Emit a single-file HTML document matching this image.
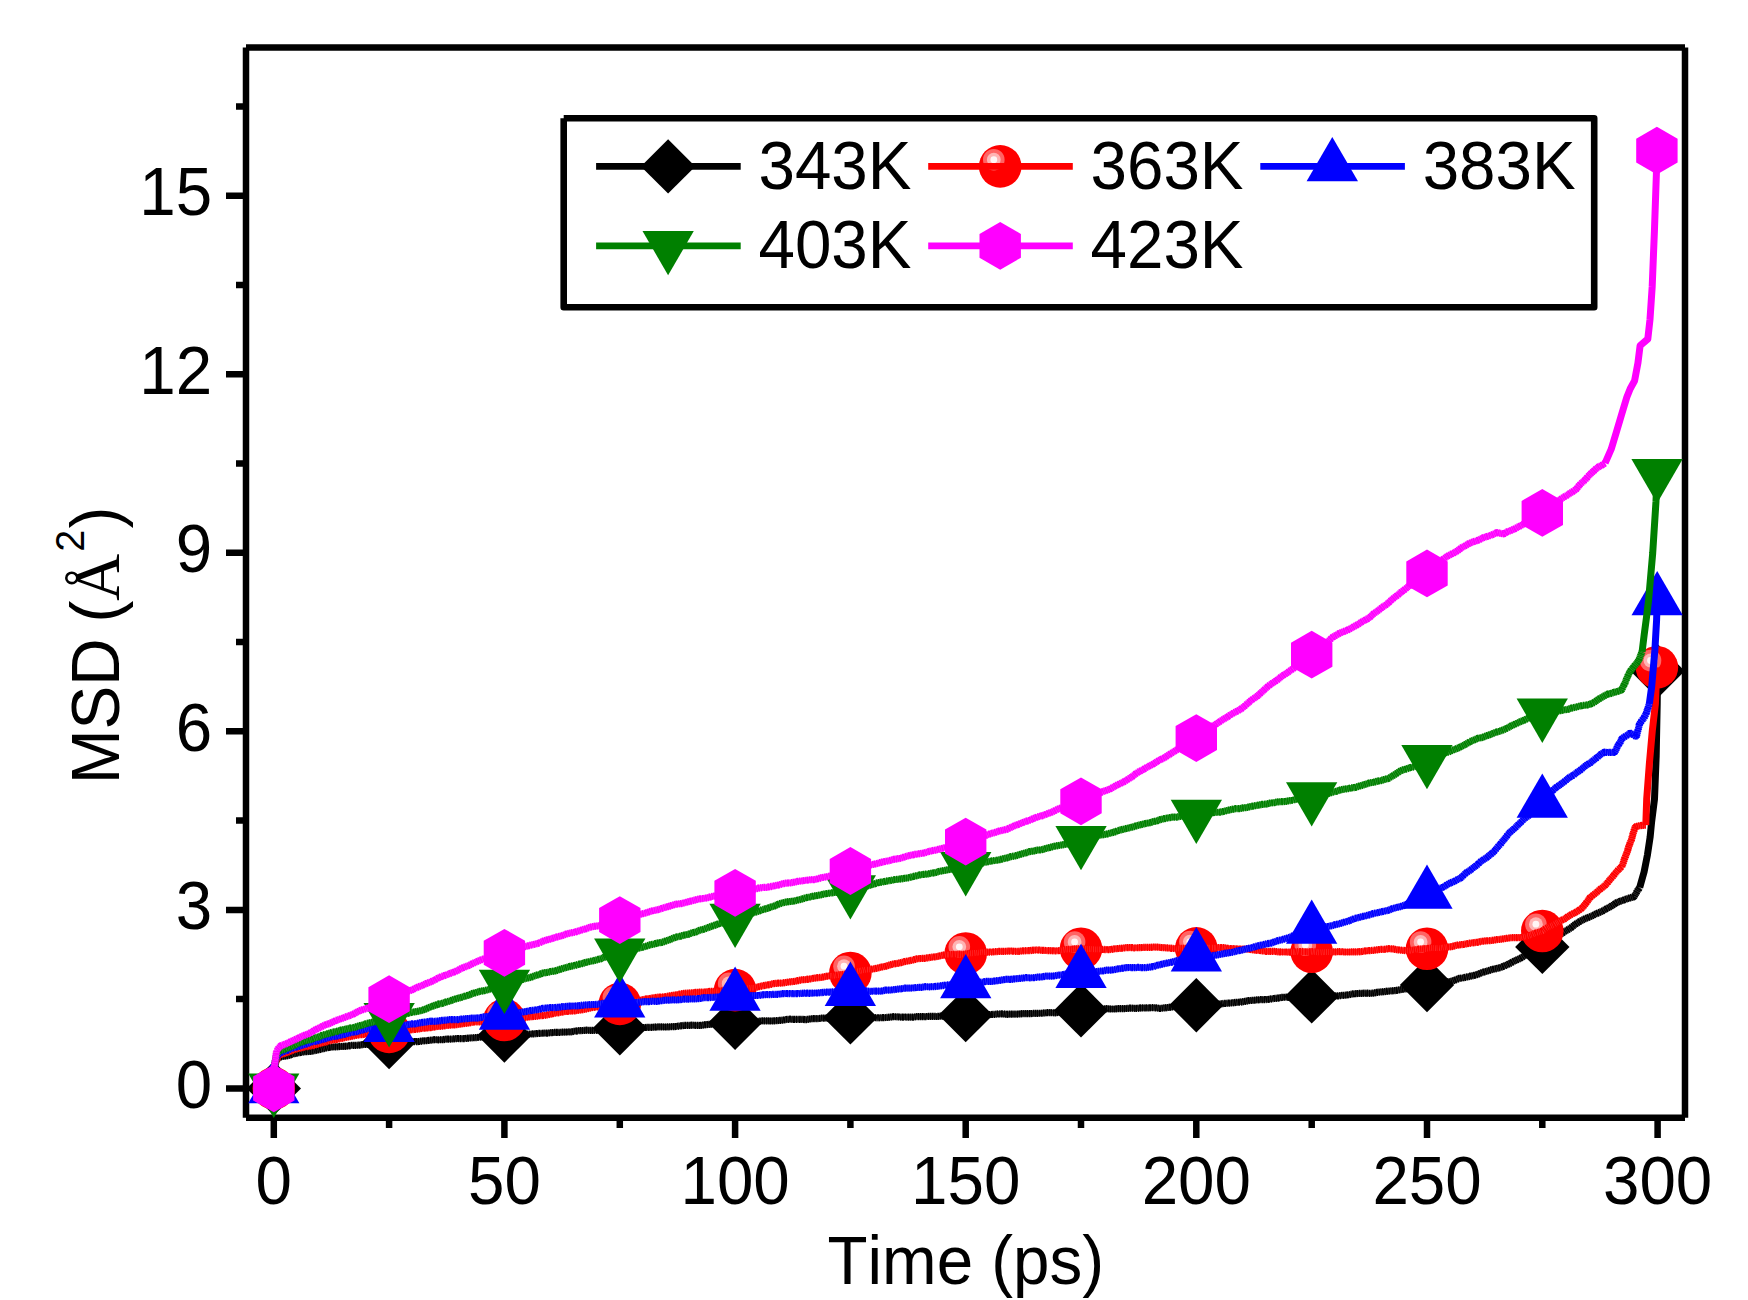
<!DOCTYPE html>
<html lang="en"><head><meta charset="utf-8"><title>MSD vs Time</title>
<style>
html,body{margin:0;padding:0;background:#fff;}
body{width:1748px;height:1300px;overflow:hidden;}
svg{display:block;}
text{font-family:"Liberation Sans",sans-serif;fill:#000;font-kerning:none;font-variant-ligatures:none;}
.t{font-size:65.5px;}
.ser{font-family:"Liberation Serif",serif;}
</style></head><body>
<svg width="1748" height="1300" viewBox="0 0 1748 1300">
<rect width="1748" height="1300" fill="#fff"/>
<g stroke="#000" stroke-width="6.5" fill="none" stroke-linecap="butt">
<path d="M246.0,47.4V1117.7M246.0,1117.7H1685.0M246.0,47.4H1685.0M1685.0,47.4V1117.7"/>
<path d="M226,1088.4H243M226,909.9H243M226,731.3H243M226,552.8H243M226,374.3H243M226,195.8H243M236,999.1H243M236,820.6H243M236,642.1H243M236,463.5H243M236,285H243M236,106.5H243M273.8,1120V1138M504.4,1120V1138M735.1,1120V1138M965.7,1120V1138M1196.3,1120V1138M1427,1120V1138M1657.6,1120V1138M389.1,1120V1128M619.8,1120V1128M850.4,1120V1128M1081,1120V1128M1311.7,1120V1128M1542.3,1120V1128"/>
</g>
<g class="t">
<text transform="translate(212.2,1107.7) scale(1,1.042)" text-anchor="end">0</text>
<text transform="translate(212.2,929.2) scale(1,1.042)" text-anchor="end">3</text>
<text transform="translate(212.2,750.6) scale(1,1.042)" text-anchor="end">6</text>
<text transform="translate(212.2,572.1) scale(1,1.042)" text-anchor="end">9</text>
<text transform="translate(212.2,393.6) scale(1,1.042)" text-anchor="end">12</text>
<text transform="translate(212.2,215.1) scale(1,1.042)" text-anchor="end">15</text>
<text transform="translate(273.8,1204) scale(1,1.042)" text-anchor="middle">0</text>
<text transform="translate(504.4,1204) scale(1,1.042)" text-anchor="middle">50</text>
<text transform="translate(735.1,1204) scale(1,1.042)" text-anchor="middle">100</text>
<text transform="translate(965.7,1204) scale(1,1.042)" text-anchor="middle">150</text>
<text transform="translate(1196.3,1204) scale(1,1.042)" text-anchor="middle">200</text>
<text transform="translate(1427,1204) scale(1,1.042)" text-anchor="middle">250</text>
<text transform="translate(1657.6,1204) scale(1,1.042)" text-anchor="middle">300</text>
<text transform="translate(965.8,1284) scale(1,1.042)" text-anchor="middle">Time (ps)</text>
<text transform="translate(119.3,645) rotate(-90) scale(1,1.042)"><tspan x="-139">MSD</tspan><tspan x="7"> </tspan><tspan x="22.4">(</tspan><tspan x="93.3" font-size="39.5" dy="-33.6">2</tspan><tspan x="116.5" dy="33.6">)</tspan></text>
<text transform="translate(119.3,645) rotate(-90)" class="ser" x="43.9">Å</text>
</g>
<g id="curves">
<g id="s-black">
<path d="M273.8,1088.4L273.9,1084.7L274.1,1081L274.2,1077.4L274.3,1073.7L274.6,1070L274.9,1066.6L275.2,1063.3L276,1060L280.6,1056.8L285,1056.1L289.3,1055.3L293.5,1053.8L297.8,1052.9L301.7,1052.2L305.6,1051.6L309.5,1051.5L313.4,1051L317.2,1050L321.1,1049.2L324.9,1048.3L328.7,1047.3L332.6,1047L336.5,1046.9L340.3,1046.5L344.1,1046.4L348,1046L351.8,1045.4L355.7,1045.3L359.5,1045.1L363.3,1044.5L367.2,1044.3L371.6,1043.9L375.9,1043.2L380.3,1043.4L384.7,1043.2L389.1,1042.9L392.9,1042.8L396.6,1042.1L400.3,1041.5L404.1,1041.6L407.8,1041.5L411.6,1041.4L415.4,1041.7L419.1,1041.5L422.9,1040.9L426.8,1040.6L430.6,1040.2L434.5,1039.7L438.3,1039.8L442.2,1039.7L446,1039.2L449.9,1039.1L453.7,1038.9L457.4,1038.5L461.1,1038.6L464.9,1038.6L468.6,1038.1L472.3,1037.8L476,1037.6L479.7,1037.2L483.8,1037.1L488,1037.3L492.1,1036.9L496.2,1036.5L500.3,1036L504.4,1035L508.3,1034.9L512.3,1035L516.3,1034.8L520.2,1034.9L524.2,1034.8L528.1,1034.1L532.1,1033.9L536,1033.7L540,1033.3L543.8,1033.2L547.7,1033.1L551.5,1032.6L555.4,1032.4L559.2,1032.4L563.1,1032.1L566.9,1032L570.8,1031.9L574.6,1031.2L578.7,1030.7L582.8,1030.5L586.9,1030.2L591,1030.4L595.2,1030.5L599.2,1029.9L603.3,1029.5L607.4,1029L611.5,1028.3L615.6,1028.4L619.8,1028.4L623.9,1028.2L628.1,1028.4L632.2,1028L636.3,1027.6L640.5,1027.8L644.6,1027.5L648.8,1027.3L652.9,1027.3L657,1026.9L661.2,1026.9L665.1,1027L668.9,1026.8L672.7,1026.7L676.6,1026.5L680.4,1025.8L684.2,1025.4L688.1,1025.4L691.9,1025.2L695.8,1025.3L699.8,1025.5L703.7,1025L707.6,1024.5L711.5,1024.2L715.4,1023.6L719.3,1023.5L723.3,1023.7L727.2,1023.3L731.1,1023.1L735.1,1023L739,1022.5L742.9,1022.3L746.9,1022.3L750.8,1021.8L754.7,1021.5L758.7,1021.3L762.6,1020.8L766.5,1020.8L770.5,1021L774.4,1020.8L778.4,1020.5L782.3,1020.2L786.2,1019.5L790.2,1019.2L794.1,1019.4L798,1019.3L802,1019.4L805.9,1019.6L809.9,1019L813.8,1018.6L817.7,1018.6L821.7,1018.2L825.6,1018.1L829.7,1018.3L833.9,1017.9L838,1017.8L842.1,1017.9L846.3,1017.5L850.4,1017.6L854.3,1017.7L858.3,1017.2L862.2,1017.2L866.1,1017.2L870.1,1017.1L874,1017.6L878,1017.9L881.9,1017.6L885.8,1017.5L889.6,1017.2L893.5,1016.7L897.3,1016.8L901.2,1017.1L905,1017L908.9,1017.2L912.8,1017.2L916.6,1016.7L920.6,1016.6L924.7,1016.7L928.7,1016.4L932.7,1016.4L936.8,1016.5L940.8,1016.1L944.9,1016.1L949.1,1016.1L953.3,1015.8L957.4,1015.8L961.6,1015.4L965.7,1014.7L969.8,1014.7L974,1014.7L978.2,1014.8L982.3,1015.2L986.5,1014.9L990.6,1014.5L994.8,1014.3L998.9,1013.8L1003.1,1013.9L1006.9,1014.3L1010.8,1014.1L1014.6,1014.1L1018.5,1014.1L1022.3,1013.7L1026.2,1013.6L1030,1013.7L1033.9,1013.4L1037.7,1013.3L1042,1013.2L1046.3,1012.7L1050.7,1012.7L1055,1012.8L1058.7,1012.4L1062.4,1012.2L1066.2,1011.8L1069.8,1010.9L1073.5,1010.5L1077.3,1010.6L1081,1010.3L1084.7,1010.4L1088.5,1010.6L1092.2,1010.1L1095.9,1009.5L1099.6,1009.4L1103.3,1009L1107,1008.7L1110.8,1009L1114.7,1009L1118.5,1008.6L1122.3,1008.6L1126.2,1008.5L1130,1008.1L1133.8,1008.3L1137.5,1008.3L1141.2,1007.9L1145,1007.8L1148.7,1007.9L1152.5,1007.7L1156.2,1007.9L1160,1008.4L1164.1,1007.9L1168.1,1007.5L1172.1,1007L1176.1,1006.2L1180.1,1006L1184.2,1006.1L1188.2,1005.9L1192.3,1005.9L1196.3,1005.6L1200.2,1004.9L1204.2,1004.6L1208.1,1004.4L1212.1,1004L1216,1004.1L1220,1004L1223.9,1003.4L1228.1,1003.2L1232.2,1002.9L1236.4,1002.3L1240.5,1002.1L1244.7,1001.4L1248.8,1000.6L1252.9,1000.3L1257.1,999.9L1261.3,999.6L1265.5,999.7L1269.6,999.2L1273.7,998.5L1277.9,998.1L1282,997.3L1286.2,997.2L1290.5,997.5L1294.7,997.2L1299,997.3L1303.2,996.9L1307.4,996.4L1311.7,996.4L1315.5,996.3L1319.2,996L1323,996.1L1326.7,995.9L1330.5,995.6L1334.2,995.8L1338,995.9L1342.1,995.4L1346.1,995.1L1350.1,994.5L1354.2,993.6L1358.2,993.5L1362.3,993.3L1366,993.1L1369.8,993.3L1373.5,993.1L1377.2,992.3L1380.9,991.9L1384.6,991.6L1388.2,991.1L1392.2,990.8L1396.1,990.5L1400,989.7L1403.9,989.1L1407.8,988.5L1411.6,987.5L1415.5,987L1419.3,986.5L1423.1,985.5L1427,984.9L1431.1,984.3L1435.3,983.4L1439.5,983.2L1443.7,982.7L1447.8,981.8L1451.9,981.2L1455.6,979.8L1459.2,978.4L1463,977.8L1466.8,977L1470.5,976.1L1474.3,975.4L1478,974.3L1481.6,972.7L1485.3,971.6L1489,970.5L1492.7,969.3L1496.5,968.6L1500.2,967.6L1503.9,966.2L1507.4,964.6L1510.9,963L1514.3,961L1517.8,959.5L1521.3,957.8L1524.6,955.6L1528.1,953.8L1531.7,952.1L1535.2,950.3L1538.9,948.9L1542.6,947.4L1545.6,944.9L1548.6,942.6L1551.7,940.2L1554.6,937.7L1557.9,935.7L1561.3,933.9L1564.5,931.7L1568,929.6L1571.5,927.4L1574.7,924.7L1578.2,922.5L1581.8,920.4L1585.2,918.7L1588.7,917.3L1592.2,915.8L1595.6,914L1599.1,912.6L1602.7,910.9L1606.1,908.9L1609.6,907.1L1613,905.1L1616.2,902.8L1619.7,901.4L1623.3,900.2L1626.7,898.9L1630.3,897.8L1634.1,896.7L1635.9,893.5L1637.6,890.4L1639.7,887.5" fill="none" stroke="#404040" stroke-width="5.8" stroke-linejoin="round"/><path d="M273.8,1088.4L273.9,1084.7L274.1,1081L274.2,1077.4L274.3,1073.7L274.6,1070L274.9,1066.6L275.2,1063.3L276,1060L280.6,1056.8L285,1056.1L289.3,1055.3L293.5,1053.8L297.8,1052.9L301.7,1052.2L305.6,1051.6L309.5,1051.5L313.4,1051L317.2,1050L321.1,1049.2L324.9,1048.3L328.7,1047.3L332.6,1047L336.5,1046.9L340.3,1046.5L344.1,1046.4L348,1046L351.8,1045.4L355.7,1045.3L359.5,1045.1L363.3,1044.5L367.2,1044.3L371.6,1043.9L375.9,1043.2L380.3,1043.4L384.7,1043.2L389.1,1042.9L392.9,1042.8L396.6,1042.1L400.3,1041.5L404.1,1041.6L407.8,1041.5L411.6,1041.4L415.4,1041.7L419.1,1041.5L422.9,1040.9L426.8,1040.6L430.6,1040.2L434.5,1039.7L438.3,1039.8L442.2,1039.7L446,1039.2L449.9,1039.1L453.7,1038.9L457.4,1038.5L461.1,1038.6L464.9,1038.6L468.6,1038.1L472.3,1037.8L476,1037.6L479.7,1037.2L483.8,1037.1L488,1037.3L492.1,1036.9L496.2,1036.5L500.3,1036L504.4,1035L508.3,1034.9L512.3,1035L516.3,1034.8L520.2,1034.9L524.2,1034.8L528.1,1034.1L532.1,1033.9L536,1033.7L540,1033.3L543.8,1033.2L547.7,1033.1L551.5,1032.6L555.4,1032.4L559.2,1032.4L563.1,1032.1L566.9,1032L570.8,1031.9L574.6,1031.2L578.7,1030.7L582.8,1030.5L586.9,1030.2L591,1030.4L595.2,1030.5L599.2,1029.9L603.3,1029.5L607.4,1029L611.5,1028.3L615.6,1028.4L619.8,1028.4L623.9,1028.2L628.1,1028.4L632.2,1028L636.3,1027.6L640.5,1027.8L644.6,1027.5L648.8,1027.3L652.9,1027.3L657,1026.9L661.2,1026.9L665.1,1027L668.9,1026.8L672.7,1026.7L676.6,1026.5L680.4,1025.8L684.2,1025.4L688.1,1025.4L691.9,1025.2L695.8,1025.3L699.8,1025.5L703.7,1025L707.6,1024.5L711.5,1024.2L715.4,1023.6L719.3,1023.5L723.3,1023.7L727.2,1023.3L731.1,1023.1L735.1,1023L739,1022.5L742.9,1022.3L746.9,1022.3L750.8,1021.8L754.7,1021.5L758.7,1021.3L762.6,1020.8L766.5,1020.8L770.5,1021L774.4,1020.8L778.4,1020.5L782.3,1020.2L786.2,1019.5L790.2,1019.2L794.1,1019.4L798,1019.3L802,1019.4L805.9,1019.6L809.9,1019L813.8,1018.6L817.7,1018.6L821.7,1018.2L825.6,1018.1L829.7,1018.3L833.9,1017.9L838,1017.8L842.1,1017.9L846.3,1017.5L850.4,1017.6L854.3,1017.7L858.3,1017.2L862.2,1017.2L866.1,1017.2L870.1,1017.1L874,1017.6L878,1017.9L881.9,1017.6L885.8,1017.5L889.6,1017.2L893.5,1016.7L897.3,1016.8L901.2,1017.1L905,1017L908.9,1017.2L912.8,1017.2L916.6,1016.7L920.6,1016.6L924.7,1016.7L928.7,1016.4L932.7,1016.4L936.8,1016.5L940.8,1016.1L944.9,1016.1L949.1,1016.1L953.3,1015.8L957.4,1015.8L961.6,1015.4L965.7,1014.7L969.8,1014.7L974,1014.7L978.2,1014.8L982.3,1015.2L986.5,1014.9L990.6,1014.5L994.8,1014.3L998.9,1013.8L1003.1,1013.9L1006.9,1014.3L1010.8,1014.1L1014.6,1014.1L1018.5,1014.1L1022.3,1013.7L1026.2,1013.6L1030,1013.7L1033.9,1013.4L1037.7,1013.3L1042,1013.2L1046.3,1012.7L1050.7,1012.7L1055,1012.8L1058.7,1012.4L1062.4,1012.2L1066.2,1011.8L1069.8,1010.9L1073.5,1010.5L1077.3,1010.6L1081,1010.3L1084.7,1010.4L1088.5,1010.6L1092.2,1010.1L1095.9,1009.5L1099.6,1009.4L1103.3,1009L1107,1008.7L1110.8,1009L1114.7,1009L1118.5,1008.6L1122.3,1008.6L1126.2,1008.5L1130,1008.1L1133.8,1008.3L1137.5,1008.3L1141.2,1007.9L1145,1007.8L1148.7,1007.9L1152.5,1007.7L1156.2,1007.9L1160,1008.4L1164.1,1007.9L1168.1,1007.5L1172.1,1007L1176.1,1006.2L1180.1,1006L1184.2,1006.1L1188.2,1005.9L1192.3,1005.9L1196.3,1005.6L1200.2,1004.9L1204.2,1004.6L1208.1,1004.4L1212.1,1004L1216,1004.1L1220,1004L1223.9,1003.4L1228.1,1003.2L1232.2,1002.9L1236.4,1002.3L1240.5,1002.1L1244.7,1001.4L1248.8,1000.6L1252.9,1000.3L1257.1,999.9L1261.3,999.6L1265.5,999.7L1269.6,999.2L1273.7,998.5L1277.9,998.1L1282,997.3L1286.2,997.2L1290.5,997.5L1294.7,997.2L1299,997.3L1303.2,996.9L1307.4,996.4L1311.7,996.4L1315.5,996.3L1319.2,996L1323,996.1L1326.7,995.9L1330.5,995.6L1334.2,995.8L1338,995.9L1342.1,995.4L1346.1,995.1L1350.1,994.5L1354.2,993.6L1358.2,993.5L1362.3,993.3L1366,993.1L1369.8,993.3L1373.5,993.1L1377.2,992.3L1380.9,991.9L1384.6,991.6L1388.2,991.1L1392.2,990.8L1396.1,990.5L1400,989.7L1403.9,989.1L1407.8,988.5L1411.6,987.5L1415.5,987L1419.3,986.5L1423.1,985.5L1427,984.9L1431.1,984.3L1435.3,983.4L1439.5,983.2L1443.7,982.7L1447.8,981.8L1451.9,981.2L1455.6,979.8L1459.2,978.4L1463,977.8L1466.8,977L1470.5,976.1L1474.3,975.4L1478,974.3L1481.6,972.7L1485.3,971.6L1489,970.5L1492.7,969.3L1496.5,968.6L1500.2,967.6L1503.9,966.2L1507.4,964.6L1510.9,963L1514.3,961L1517.8,959.5L1521.3,957.8L1524.6,955.6L1528.1,953.8L1531.7,952.1L1535.2,950.3L1538.9,948.9L1542.6,947.4L1545.6,944.9L1548.6,942.6L1551.7,940.2L1554.6,937.7L1557.9,935.7L1561.3,933.9L1564.5,931.7L1568,929.6L1571.5,927.4L1574.7,924.7L1578.2,922.5L1581.8,920.4L1585.2,918.7L1588.7,917.3L1592.2,915.8L1595.6,914L1599.1,912.6L1602.7,910.9L1606.1,908.9L1609.6,907.1L1613,905.1L1616.2,902.8L1619.7,901.4L1623.3,900.2L1626.7,898.9L1630.3,897.8L1634.1,896.7L1635.9,893.5L1637.6,890.4L1639.7,887.5" fill="none" stroke="#000000" stroke-width="7.2" stroke-dasharray="1.7 0.5 1.3 0.42 2 0.55 1.5 0.45 1.1 0.4" stroke-linejoin="bevel"/><path d="M1639.7,887.5L1644.1,871.9L1647.5,854.6L1650.1,837.3L1651.6,822L1654.5,799L1656.2,755.8L1657.2,703.9L1657.5,671.1" fill="none" stroke="#000000" stroke-width="7.0" stroke-linejoin="round"/>
<path d="M273.8,1061.2L301,1088.4L273.8,1115.6L246.6,1088.4Z" fill="#000000"/><path d="M389.1,1014.9L416.3,1042.1L389.1,1069.3L361.9,1042.1Z" fill="#000000"/><path d="M504.4,1008.3L531.6,1035.5L504.4,1062.7L477.2,1035.5Z" fill="#000000"/><path d="M619.8,1001.1L647,1028.3L619.8,1055.5L592.6,1028.3Z" fill="#000000"/><path d="M735.1,995.6L762.3,1022.8L735.1,1050L707.9,1022.8Z" fill="#000000"/><path d="M850.4,990.2L877.6,1017.4L850.4,1044.6L823.2,1017.4Z" fill="#000000"/><path d="M965.7,987.9L992.9,1015.1L965.7,1042.3L938.5,1015.1Z" fill="#000000"/><path d="M1081,983.2L1108.2,1010.4L1081,1037.6L1053.8,1010.4Z" fill="#000000"/><path d="M1196.3,978L1223.5,1005.2L1196.3,1032.4L1169.1,1005.2Z" fill="#000000"/><path d="M1311.7,969.2L1338.9,996.4L1311.7,1023.6L1284.5,996.4Z" fill="#000000"/><path d="M1427,957.8L1454.2,985L1427,1012.2L1399.8,985Z" fill="#000000"/><path d="M1542.3,919.7L1569.5,946.9L1542.3,974.1L1515.1,946.9Z" fill="#000000"/><path d="M1657.6,643.9L1684.8,671.1L1657.6,698.3L1630.4,671.1Z" fill="#000000"/>
</g>
<g id="s-red">
<circle cx="273.8" cy="1088.4" r="21.3" fill="#FF0000"/><circle cx="267.4" cy="1081.7" r="10.8" fill="#FF6464"/><circle cx="267.4" cy="1081.7" r="6.9" fill="#FFB4B4"/><circle cx="267.4" cy="1081.7" r="3.4" fill="#FFF6F6"/><circle cx="389.1" cy="1031.9" r="21.3" fill="#FF0000"/><circle cx="382.7" cy="1025.2" r="10.8" fill="#FF6464"/><circle cx="382.7" cy="1025.2" r="6.9" fill="#FFB4B4"/><circle cx="382.7" cy="1025.2" r="3.4" fill="#FFF6F6"/><circle cx="504.4" cy="1020" r="21.3" fill="#FF0000"/><circle cx="498" cy="1013.2" r="10.8" fill="#FF6464"/><circle cx="498" cy="1013.2" r="6.9" fill="#FFB4B4"/><circle cx="498" cy="1013.2" r="3.4" fill="#FFF6F6"/><circle cx="619.8" cy="1003.9" r="21.3" fill="#FF0000"/><circle cx="613.4" cy="997.1" r="10.8" fill="#FF6464"/><circle cx="613.4" cy="997.1" r="6.9" fill="#FFB4B4"/><circle cx="613.4" cy="997.1" r="3.4" fill="#FFF6F6"/><circle cx="735.1" cy="990.1" r="21.3" fill="#FF0000"/><circle cx="728.7" cy="983.4" r="10.8" fill="#FF6464"/><circle cx="728.7" cy="983.4" r="6.9" fill="#FFB4B4"/><circle cx="728.7" cy="983.4" r="3.4" fill="#FFF6F6"/><circle cx="850.4" cy="973" r="21.3" fill="#FF0000"/><circle cx="844" cy="966.2" r="10.8" fill="#FF6464"/><circle cx="844" cy="966.2" r="6.9" fill="#FFB4B4"/><circle cx="844" cy="966.2" r="3.4" fill="#FFF6F6"/><circle cx="965.7" cy="953.5" r="21.3" fill="#FF0000"/><circle cx="959.3" cy="946.8" r="10.8" fill="#FF6464"/><circle cx="959.3" cy="946.8" r="6.9" fill="#FFB4B4"/><circle cx="959.3" cy="946.8" r="3.4" fill="#FFF6F6"/><circle cx="1081" cy="948.7" r="21.3" fill="#FF0000"/><circle cx="1074.6" cy="942" r="10.8" fill="#FF6464"/><circle cx="1074.6" cy="942" r="6.9" fill="#FFB4B4"/><circle cx="1074.6" cy="942" r="3.4" fill="#FFF6F6"/><circle cx="1196.3" cy="948.4" r="21.3" fill="#FF0000"/><circle cx="1189.9" cy="941.6" r="10.8" fill="#FF6464"/><circle cx="1189.9" cy="941.6" r="6.9" fill="#FFB4B4"/><circle cx="1189.9" cy="941.6" r="3.4" fill="#FFF6F6"/><circle cx="1311.7" cy="951.7" r="21.3" fill="#FF0000"/><circle cx="1305.3" cy="945" r="10.8" fill="#FF6464"/><circle cx="1305.3" cy="945" r="6.9" fill="#FFB4B4"/><circle cx="1305.3" cy="945" r="3.4" fill="#FFF6F6"/><circle cx="1427" cy="948.8" r="21.3" fill="#FF0000"/><circle cx="1420.6" cy="942" r="10.8" fill="#FF6464"/><circle cx="1420.6" cy="942" r="6.9" fill="#FFB4B4"/><circle cx="1420.6" cy="942" r="3.4" fill="#FFF6F6"/><circle cx="1542.3" cy="931" r="21.3" fill="#FF0000"/><circle cx="1535.9" cy="924.2" r="10.8" fill="#FF6464"/><circle cx="1535.9" cy="924.2" r="6.9" fill="#FFB4B4"/><circle cx="1535.9" cy="924.2" r="3.4" fill="#FFF6F6"/><circle cx="1656.9" cy="667.3" r="21.3" fill="#FF0000"/><circle cx="1650.5" cy="660.5" r="10.8" fill="#FF6464"/><circle cx="1650.5" cy="660.5" r="6.9" fill="#FFB4B4"/><circle cx="1650.5" cy="660.5" r="3.4" fill="#FFF6F6"/>
<path d="M273.8,1088.4L274,1084.5L274.2,1080.6L274.3,1076.7L274.6,1072.8L274.6,1068.9L274.7,1064.9L276,1061.7L277.3,1058.4L278.2,1055.2L282.1,1054.1L286.1,1052.9L289.9,1051.3L293.8,1049.7L297.8,1048.6L301.7,1047.7L305.6,1046.7L309.5,1046.2L313.4,1045.4L317.2,1044.2L321.1,1043.2L324.9,1042.3L328.7,1041L332.6,1040L336.5,1039.5L340.3,1038.7L344.1,1037.7L348,1037L351.8,1036.3L355.6,1035.4L359.5,1034.8L363.4,1034.5L367.2,1033.6L371.6,1033.2L376,1032.9L380.3,1032.1L384.7,1031.6L389.1,1031.7L392.8,1031.5L396.6,1031.2L400.4,1031.2L404.1,1030.9L407.9,1030.2L411.6,1029.7L415.4,1029.4L419.1,1028.9L422.9,1028.2L426.8,1028L430.6,1027.6L434.5,1026.9L438.3,1026.4L442.2,1026.1L446,1025.5L449.9,1025.1L453.7,1025L457.5,1024.6L461.1,1023.9L464.8,1023.4L468.5,1023L472.2,1022.3L475.9,1021.9L479.7,1021.9L483.8,1021.9L487.9,1021.5L492.1,1021.4L496.2,1021L500.3,1020.2L504.4,1019.8L508.3,1019.4L512.3,1018.8L516.2,1018.4L520.2,1018.3L524.2,1017.6L528.1,1017L532.1,1016.7L536.1,1016.3L540,1015.7L543.9,1015.4L547.7,1014.9L551.5,1013.9L555.3,1013.1L559.2,1012.6L563,1011.9L566.9,1011.3L570.8,1011.2L574.7,1010.9L578.7,1010.2L582.9,1009.6L586.9,1008.9L591,1007.8L595.1,1007.1L599.2,1006.8L603.3,1006.1L607.4,1005.6L611.6,1005.4L615.7,1004.6L619.7,1003.8L623.5,1003.4L627.3,1002.8L631.1,1001.9L634.8,1001.4L638.6,1000.8L642.3,999.8L646.1,998.9L649.9,998.5L653.6,997.8L657.4,997.2L661.2,997L665.1,996.8L668.9,996L672.7,995.3L676.6,994.8L680.4,994L684.2,993.3L688.1,993.1L692,992.8L695.8,992.3L699.7,992.2L703.7,992.2L707.6,991.7L711.5,991.3L715.4,991.3L719.4,991.1L723.3,990.7L727.2,990.6L731.1,990.3L735,989.7L739,989.2L742.9,988.9L746.9,988.3L750.8,987.8L754.8,987.6L758.7,986.8L762.6,985.8L766.5,985.1L770.5,984.4L774.4,983.5L778.3,983.2L782.3,983L786.3,982.4L790.2,981.8L794.2,981.4L798.1,980.6L802,979.8L805.9,979.5L809.9,979L813.8,978.2L817.7,977.7L821.7,977.3L825.6,976.4L829.7,975.8L833.9,975.6L838,975L842.2,974.5L846.3,974.1L850.4,973.1L854.3,971.9L858.2,971.2L862.2,970.4L866.1,969.6L870.1,969.3L874.1,968.8L878,967.9L881.9,967L885.8,966.2L889.6,965L893.4,964L897.3,963.4L901.2,962.6L905,961.5L908.9,960.8L912.8,960L916.6,958.9L920.3,958.5L924,958.4L927.7,957.9L931.4,957.2L935.1,956.8L938.8,956.2L942.5,955.2L946.3,954.7L950.2,954.7L954.1,954.4L958,954.2L961.9,954.3L965.7,954L969.9,953.3L974,953L978.2,952.7L982.3,952.2L986.5,952.1L990.6,952.2L994.8,951.7L998.9,951.4L1003.1,951.4L1006.9,951.2L1010.8,951L1014.6,951.3L1018.5,951.3L1022.3,950.9L1026.2,950.7L1030,950.6L1033.8,950.1L1037.7,949.9L1041.9,950.3L1046,950.5L1050.2,950.6L1054.3,950.9L1058.5,950.7L1062.2,950L1066,949.6L1069.7,949.4L1073.5,949L1077.2,948.7L1081,948.8L1084.7,949L1088.4,948.9L1092.1,949.1L1095.9,949.3L1099.6,949.3L1103.3,949.3L1107,949.8L1110.9,949.5L1114.7,948.8L1118.5,948.5L1122.3,948.2L1126.1,947.7L1130,947.5L1134,947.8L1138,947.7L1142,947.5L1146,947.4L1149.7,947.4L1153.4,947.1L1157.2,947.1L1160.9,947.5L1164.6,947.7L1168.3,947.9L1172,948.4L1176,948.6L1180.1,948.3L1184.1,948.4L1188.2,948.5L1192.3,948.3L1196.3,948.4L1200.2,948.5L1204.2,948.2L1208.1,947.7L1212.1,947.7L1216,947.7L1219.9,947.5L1223.9,947.7L1227.7,948.4L1231.6,948.6L1235.4,948.7L1239.3,949.1L1243.1,949L1247,949L1250.8,949.5L1254.7,950.1L1258.5,950.4L1262.4,950.9L1266.4,951.4L1270.4,951.4L1274.3,951.4L1278.3,951.8L1282.2,952L1286.2,952L1290.5,952.2L1294.7,952.1L1298.9,951.6L1303.2,951.7L1307.5,951.8L1311.7,951.6L1315.8,952L1319.9,952.4L1324,952.1L1328.2,952L1332.3,952L1336.4,951.8L1340.7,951.6L1345,952L1349.4,952L1353.7,951.8L1358,951.9L1362.3,951.5L1366,950.8L1369.7,950.6L1373.4,950.3L1377.1,949.8L1380.9,949.4L1384.6,949.3L1388.3,948.7L1392.7,948.9L1396.9,949.7L1401.3,950.2L1405.6,950.6L1409.9,950.6L1414.2,950L1418.4,949.2L1422.7,948.9L1427,948.5L1431.1,948L1435.3,948.1L1439.5,948L1443.6,947.4L1447.8,947L1451.9,946.6L1455.6,945.5L1459.3,944.8L1463,944.5L1466.8,943.8L1470.4,943.1L1474.2,942.7L1477.9,942.1L1481.6,941.4L1485.3,940.9L1489.1,940.7L1492.8,940.3L1496.5,939.7L1500.2,939.3L1503.9,938.8L1508.2,938L1512.5,937.7L1516.9,937.7L1521.2,937.5L1524.7,936.6L1528.4,935.9L1531.9,934.8L1535.3,933.3L1538.8,932.2L1542.3,931L1545.8,928.6L1549.5,926.6L1553.4,924.9L1557,922.8L1560.7,920.7L1564.5,918.9L1567.9,916.6L1571.3,914.4L1575,912.7L1578.4,910.6L1581.8,908.3L1584.7,904.9L1587.4,901.3L1590,897.5L1593.1,895.1L1596.2,892.7L1599.1,890.1L1602.2,887.7L1605.2,885.3L1607.8,882.4L1610.4,879.1L1613.2,876L1615.8,872.7L1618.5,869.6L1621.7,866.7L1623.2,863L1624.4,859.1L1625.9,855.4L1627.3,851.6L1628.4,847.7L1629.9,843.6L1631.5,839.5L1632.6,835.2L1633.9,831L1635.3,826.8L1638.8,825.9L1642.3,825.4L1645.8,825.2" fill="none" stroke="#FF4040" stroke-width="5.8" stroke-linejoin="round"/><path d="M273.8,1088.4L274,1084.5L274.2,1080.6L274.3,1076.7L274.6,1072.8L274.6,1068.9L274.7,1064.9L276,1061.7L277.3,1058.4L278.2,1055.2L282.1,1054.1L286.1,1052.9L289.9,1051.3L293.8,1049.7L297.8,1048.6L301.7,1047.7L305.6,1046.7L309.5,1046.2L313.4,1045.4L317.2,1044.2L321.1,1043.2L324.9,1042.3L328.7,1041L332.6,1040L336.5,1039.5L340.3,1038.7L344.1,1037.7L348,1037L351.8,1036.3L355.6,1035.4L359.5,1034.8L363.4,1034.5L367.2,1033.6L371.6,1033.2L376,1032.9L380.3,1032.1L384.7,1031.6L389.1,1031.7L392.8,1031.5L396.6,1031.2L400.4,1031.2L404.1,1030.9L407.9,1030.2L411.6,1029.7L415.4,1029.4L419.1,1028.9L422.9,1028.2L426.8,1028L430.6,1027.6L434.5,1026.9L438.3,1026.4L442.2,1026.1L446,1025.5L449.9,1025.1L453.7,1025L457.5,1024.6L461.1,1023.9L464.8,1023.4L468.5,1023L472.2,1022.3L475.9,1021.9L479.7,1021.9L483.8,1021.9L487.9,1021.5L492.1,1021.4L496.2,1021L500.3,1020.2L504.4,1019.8L508.3,1019.4L512.3,1018.8L516.2,1018.4L520.2,1018.3L524.2,1017.6L528.1,1017L532.1,1016.7L536.1,1016.3L540,1015.7L543.9,1015.4L547.7,1014.9L551.5,1013.9L555.3,1013.1L559.2,1012.6L563,1011.9L566.9,1011.3L570.8,1011.2L574.7,1010.9L578.7,1010.2L582.9,1009.6L586.9,1008.9L591,1007.8L595.1,1007.1L599.2,1006.8L603.3,1006.1L607.4,1005.6L611.6,1005.4L615.7,1004.6L619.7,1003.8L623.5,1003.4L627.3,1002.8L631.1,1001.9L634.8,1001.4L638.6,1000.8L642.3,999.8L646.1,998.9L649.9,998.5L653.6,997.8L657.4,997.2L661.2,997L665.1,996.8L668.9,996L672.7,995.3L676.6,994.8L680.4,994L684.2,993.3L688.1,993.1L692,992.8L695.8,992.3L699.7,992.2L703.7,992.2L707.6,991.7L711.5,991.3L715.4,991.3L719.4,991.1L723.3,990.7L727.2,990.6L731.1,990.3L735,989.7L739,989.2L742.9,988.9L746.9,988.3L750.8,987.8L754.8,987.6L758.7,986.8L762.6,985.8L766.5,985.1L770.5,984.4L774.4,983.5L778.3,983.2L782.3,983L786.3,982.4L790.2,981.8L794.2,981.4L798.1,980.6L802,979.8L805.9,979.5L809.9,979L813.8,978.2L817.7,977.7L821.7,977.3L825.6,976.4L829.7,975.8L833.9,975.6L838,975L842.2,974.5L846.3,974.1L850.4,973.1L854.3,971.9L858.2,971.2L862.2,970.4L866.1,969.6L870.1,969.3L874.1,968.8L878,967.9L881.9,967L885.8,966.2L889.6,965L893.4,964L897.3,963.4L901.2,962.6L905,961.5L908.9,960.8L912.8,960L916.6,958.9L920.3,958.5L924,958.4L927.7,957.9L931.4,957.2L935.1,956.8L938.8,956.2L942.5,955.2L946.3,954.7L950.2,954.7L954.1,954.4L958,954.2L961.9,954.3L965.7,954L969.9,953.3L974,953L978.2,952.7L982.3,952.2L986.5,952.1L990.6,952.2L994.8,951.7L998.9,951.4L1003.1,951.4L1006.9,951.2L1010.8,951L1014.6,951.3L1018.5,951.3L1022.3,950.9L1026.2,950.7L1030,950.6L1033.8,950.1L1037.7,949.9L1041.9,950.3L1046,950.5L1050.2,950.6L1054.3,950.9L1058.5,950.7L1062.2,950L1066,949.6L1069.7,949.4L1073.5,949L1077.2,948.7L1081,948.8L1084.7,949L1088.4,948.9L1092.1,949.1L1095.9,949.3L1099.6,949.3L1103.3,949.3L1107,949.8L1110.9,949.5L1114.7,948.8L1118.5,948.5L1122.3,948.2L1126.1,947.7L1130,947.5L1134,947.8L1138,947.7L1142,947.5L1146,947.4L1149.7,947.4L1153.4,947.1L1157.2,947.1L1160.9,947.5L1164.6,947.7L1168.3,947.9L1172,948.4L1176,948.6L1180.1,948.3L1184.1,948.4L1188.2,948.5L1192.3,948.3L1196.3,948.4L1200.2,948.5L1204.2,948.2L1208.1,947.7L1212.1,947.7L1216,947.7L1219.9,947.5L1223.9,947.7L1227.7,948.4L1231.6,948.6L1235.4,948.7L1239.3,949.1L1243.1,949L1247,949L1250.8,949.5L1254.7,950.1L1258.5,950.4L1262.4,950.9L1266.4,951.4L1270.4,951.4L1274.3,951.4L1278.3,951.8L1282.2,952L1286.2,952L1290.5,952.2L1294.7,952.1L1298.9,951.6L1303.2,951.7L1307.5,951.8L1311.7,951.6L1315.8,952L1319.9,952.4L1324,952.1L1328.2,952L1332.3,952L1336.4,951.8L1340.7,951.6L1345,952L1349.4,952L1353.7,951.8L1358,951.9L1362.3,951.5L1366,950.8L1369.7,950.6L1373.4,950.3L1377.1,949.8L1380.9,949.4L1384.6,949.3L1388.3,948.7L1392.7,948.9L1396.9,949.7L1401.3,950.2L1405.6,950.6L1409.9,950.6L1414.2,950L1418.4,949.2L1422.7,948.9L1427,948.5L1431.1,948L1435.3,948.1L1439.5,948L1443.6,947.4L1447.8,947L1451.9,946.6L1455.6,945.5L1459.3,944.8L1463,944.5L1466.8,943.8L1470.4,943.1L1474.2,942.7L1477.9,942.1L1481.6,941.4L1485.3,940.9L1489.1,940.7L1492.8,940.3L1496.5,939.7L1500.2,939.3L1503.9,938.8L1508.2,938L1512.5,937.7L1516.9,937.7L1521.2,937.5L1524.7,936.6L1528.4,935.9L1531.9,934.8L1535.3,933.3L1538.8,932.2L1542.3,931L1545.8,928.6L1549.5,926.6L1553.4,924.9L1557,922.8L1560.7,920.7L1564.5,918.9L1567.9,916.6L1571.3,914.4L1575,912.7L1578.4,910.6L1581.8,908.3L1584.7,904.9L1587.4,901.3L1590,897.5L1593.1,895.1L1596.2,892.7L1599.1,890.1L1602.2,887.7L1605.2,885.3L1607.8,882.4L1610.4,879.1L1613.2,876L1615.8,872.7L1618.5,869.6L1621.7,866.7L1623.2,863L1624.4,859.1L1625.9,855.4L1627.3,851.6L1628.4,847.7L1629.9,843.6L1631.5,839.5L1632.6,835.2L1633.9,831L1635.3,826.8L1638.8,825.9L1642.3,825.4L1645.8,825.2" fill="none" stroke="#FF0000" stroke-width="7.2" stroke-dasharray="1.7 0.5 1.3 0.42 2 0.55 1.5 0.45 1.1 0.4" stroke-linejoin="bevel"/><path d="M1645.8,825.2L1646.7,799L1649.3,764.4L1652.4,729.8L1655.4,703.9L1656.9,667.3" fill="none" stroke="#FF0000" stroke-width="7.0" stroke-linejoin="round"/>
</g>
<g id="s-blue">
<path d="M273.8,1088.4L274,1084.5L274,1080.6L274.1,1076.7L274.5,1072.8L274.5,1068.9L274.7,1065L275.6,1060.4L276.9,1055.9L280.8,1052.6L284.1,1051.3L287.6,1050.2L291,1048.7L294.4,1047.5L298,1046.7L301.8,1045.3L305.6,1044.2L309.4,1042.8L313.2,1041.6L317.2,1041L321,1039.8L324.9,1038.8L328.7,1037.6L332.5,1036.5L336.5,1036.2L340.3,1035.2L344.2,1034.4L348,1033.4L351.8,1032.3L355.7,1031.9L359.5,1030.8L363.3,1029.8L367.2,1028.8L371.5,1028.2L376,1028.4L380.3,1027.8L384.7,1027.6L389.1,1027.1L392.8,1026.7L396.7,1026.7L400.4,1025.9L404.1,1025.3L407.9,1024.6L411.6,1023.9L415.4,1023.8L419.1,1023L422.9,1022.3L426.8,1021.9L430.6,1021.2L434.5,1021.3L438.3,1021L442.1,1020.4L446,1020.1L449.8,1019.6L453.7,1019.6L457.4,1019.7L461.1,1019.1L464.9,1018.8L468.6,1018.5L472.3,1018.1L476,1018.2L479.7,1017.7L483.8,1016.9L487.9,1016.5L492,1015.9L496.2,1016L500.3,1015.3L504.4,1014.8L508.3,1014.3L512.1,1013.6L516.1,1013.5L519.9,1012.7L523.7,1011.8L527.6,1011.3L531.4,1010.4L535.3,1010.1L539.2,1009.4L543,1008.3L546.9,1008.1L550.9,1007.5L554.9,1007.6L558.8,1007.3L562.7,1006.6L566.7,1006.4L570.7,1006L574.6,1006L578.7,1005.8L582.8,1005.1L586.9,1004.9L591,1004.5L595.1,1004.5L599.2,1004.1L603.3,1003.4L607.4,1003.3L611.5,1003L615.7,1003.2L619.8,1002.9L623.9,1002.4L628,1002.6L632.2,1002.4L636.4,1002.6L640.5,1002.1L644.6,1001.6L648.8,1001.6L652.9,1001.2L657.1,1001.4L661.2,1000.8L665,1000.2L668.9,1000.2L672.7,999.9L676.6,1000L680.4,999.7L684.3,999.1L688.1,999.1L692,998.9L695.8,998.8L699.8,998.5L703.6,997.7L707.6,997.7L711.5,997.4L715.4,997.2L719.4,997L723.3,996.2L727.2,996.2L731.1,996.1L735.1,996L739,996.1L742.9,995.5L746.9,995.6L750.8,995.7L754.8,995.5L758.7,995.5L762.6,994.8L766.5,994.5L770.5,994.6L774.4,994.3L778.4,994.3L782.3,993.7L786.2,993.5L790.2,993.7L794.1,993.6L798.1,993.7L802,993.3L805.9,993L809.9,993.3L813.8,993L817.7,993L821.7,992.6L825.6,992L829.7,992.1L833.9,991.8L838,991.7L842.1,991.2L846.2,990.8L850.4,991.2L854.3,991.1L858.3,991.3L862.2,991.1L866.1,990.9L870.1,991.3L874,991.2L878,991.2L881.9,991L885.7,990.1L889.6,990.1L893.5,989.7L897.3,989.2L901.2,988.8L905,988.1L908.9,988.1L912.8,988L916.6,987.5L920.9,987.4L925.2,986.7L929.6,986.8L933.9,986.6L938.2,986.2L942.5,985.6L946.3,984.9L950.2,984.9L954.1,984.5L957.9,984L961.8,983.6L965.7,982.9L969.9,983.1L974,982.9L978.2,982.4L982.3,982.1L986.5,981.4L990.7,981.5L994.8,981L999,980.5L1003.1,979.8L1006.9,979.2L1010.8,979.4L1014.6,978.9L1018.5,978.5L1022.3,978.2L1026.1,977.6L1030,977.8L1033.9,977.7L1037.7,977.1L1041.7,976.9L1045.6,976.2L1049.5,976.2L1053.5,976L1057.4,975.3L1061.3,974.9L1065.2,974.2L1069.2,974L1073.1,974L1077,973.3L1081,973.1L1084.7,972.5L1088.4,972.2L1092.2,972.3L1095.9,971.7L1099.6,971.2L1103.3,970.8L1107,970.1L1110.9,970.1L1114.7,969.6L1118.5,968.8L1122.3,968.3L1126.1,967.6L1130,967.5L1134,967.7L1138,967.4L1142,967.6L1146,967.6L1149.7,967.1L1153.5,966.6L1157.2,965.3L1160.9,964.5L1164.6,963.6L1168.3,962.7L1172.1,962.2L1176,960.9L1180.1,959.8L1184.1,958.9L1188.1,958.1L1192.3,957.6L1196.3,956.4L1200.4,956.1L1204.6,955.8L1208.7,955.7L1212.9,955.7L1217,954.9L1221.1,954.2L1225.1,953.4L1229.1,952.8L1233.2,952.2L1237.1,950.9L1241.1,950.3L1244.8,949.2L1248.6,948.4L1252.3,947.7L1255.9,946.3L1259.7,945.4L1263.4,944.6L1267.1,943.7L1271.1,943.1L1274.8,941.7L1278.6,940.5L1282.4,939.6L1286.2,938.4L1289.9,937.3L1293.5,935.6L1297,934L1300.7,932.8L1304.3,931.4L1308.1,930.4L1311.7,929L1315.8,928L1319.9,927.6L1324.1,926.8L1328.3,926.5L1332.3,925.5L1336.4,924.4L1340.1,923.5L1343.8,922.3L1347.6,921.4L1351.2,920L1354.8,918.4L1358.5,917.6L1362.2,916.5L1366,915.7L1369.8,914.8L1373.4,913.5L1377.2,912.8L1380.9,911.9L1384.7,911.1L1388.4,910.3L1392.2,908.7L1396.1,907.6L1400,906.7L1403.9,905.5L1407.8,903.7L1411.4,901.2L1415.3,899.5L1419.2,897.6L1423.2,895.9L1427,893.9L1431,891.9L1435.3,890.5L1439.3,888.6L1443.5,887L1446.8,884.9L1450.2,883L1453.7,881.6L1457.1,879.7L1460.6,878.1L1463.3,875.5L1466,872.9L1469.2,870.9L1472.1,868.7L1475,866.4L1478,864.2L1480.6,861.6L1483.7,859.5L1486.8,857.5L1489.6,855.1L1492.6,852.9L1495.2,850.3L1497.4,847.2L1500.1,844.5L1502.4,841.5L1504.9,838.5L1507.2,835.5L1509.7,832.4L1512.8,829.9L1515.7,827.3L1518.4,824.5L1521.3,821.8L1524.1,818.9L1527.4,816.5L1530.5,814L1533.4,811.2L1536.4,808.5L1539.1,805.5L1542.3,803L1545,800L1547.6,796.8L1550.3,793.8L1552.7,790.5L1555.7,787.7L1559.3,785.3L1562.8,782.7L1566.2,780.1L1569.6,777.3L1573.4,775.2L1576.7,772.6L1580.2,770.2L1583.4,767.5L1586.8,764.9L1590.5,762.8L1593.8,760L1597.3,757.4L1600.5,754.5L1604.3,752.2L1607.7,752.5L1611.2,752.3L1614.7,752.4L1616.4,748.9L1618,745.4L1620.3,742.2L1621.8,738.7L1624.5,736.9L1627.4,735.1L1630.2,733L1633.4,734.8L1636.4,736.8L1637.3,732.6L1638.4,728.6L1639.3,724.5L1641.5,721L1644,717.8L1645.9,714.2L1647.1,710.8L1648.2,707.4L1649.3,703.9" fill="none" stroke="#4040FF" stroke-width="5.8" stroke-linejoin="round"/><path d="M273.8,1088.4L274,1084.5L274,1080.6L274.1,1076.7L274.5,1072.8L274.5,1068.9L274.7,1065L275.6,1060.4L276.9,1055.9L280.8,1052.6L284.1,1051.3L287.6,1050.2L291,1048.7L294.4,1047.5L298,1046.7L301.8,1045.3L305.6,1044.2L309.4,1042.8L313.2,1041.6L317.2,1041L321,1039.8L324.9,1038.8L328.7,1037.6L332.5,1036.5L336.5,1036.2L340.3,1035.2L344.2,1034.4L348,1033.4L351.8,1032.3L355.7,1031.9L359.5,1030.8L363.3,1029.8L367.2,1028.8L371.5,1028.2L376,1028.4L380.3,1027.8L384.7,1027.6L389.1,1027.1L392.8,1026.7L396.7,1026.7L400.4,1025.9L404.1,1025.3L407.9,1024.6L411.6,1023.9L415.4,1023.8L419.1,1023L422.9,1022.3L426.8,1021.9L430.6,1021.2L434.5,1021.3L438.3,1021L442.1,1020.4L446,1020.1L449.8,1019.6L453.7,1019.6L457.4,1019.7L461.1,1019.1L464.9,1018.8L468.6,1018.5L472.3,1018.1L476,1018.2L479.7,1017.7L483.8,1016.9L487.9,1016.5L492,1015.9L496.2,1016L500.3,1015.3L504.4,1014.8L508.3,1014.3L512.1,1013.6L516.1,1013.5L519.9,1012.7L523.7,1011.8L527.6,1011.3L531.4,1010.4L535.3,1010.1L539.2,1009.4L543,1008.3L546.9,1008.1L550.9,1007.5L554.9,1007.6L558.8,1007.3L562.7,1006.6L566.7,1006.4L570.7,1006L574.6,1006L578.7,1005.8L582.8,1005.1L586.9,1004.9L591,1004.5L595.1,1004.5L599.2,1004.1L603.3,1003.4L607.4,1003.3L611.5,1003L615.7,1003.2L619.8,1002.9L623.9,1002.4L628,1002.6L632.2,1002.4L636.4,1002.6L640.5,1002.1L644.6,1001.6L648.8,1001.6L652.9,1001.2L657.1,1001.4L661.2,1000.8L665,1000.2L668.9,1000.2L672.7,999.9L676.6,1000L680.4,999.7L684.3,999.1L688.1,999.1L692,998.9L695.8,998.8L699.8,998.5L703.6,997.7L707.6,997.7L711.5,997.4L715.4,997.2L719.4,997L723.3,996.2L727.2,996.2L731.1,996.1L735.1,996L739,996.1L742.9,995.5L746.9,995.6L750.8,995.7L754.8,995.5L758.7,995.5L762.6,994.8L766.5,994.5L770.5,994.6L774.4,994.3L778.4,994.3L782.3,993.7L786.2,993.5L790.2,993.7L794.1,993.6L798.1,993.7L802,993.3L805.9,993L809.9,993.3L813.8,993L817.7,993L821.7,992.6L825.6,992L829.7,992.1L833.9,991.8L838,991.7L842.1,991.2L846.2,990.8L850.4,991.2L854.3,991.1L858.3,991.3L862.2,991.1L866.1,990.9L870.1,991.3L874,991.2L878,991.2L881.9,991L885.7,990.1L889.6,990.1L893.5,989.7L897.3,989.2L901.2,988.8L905,988.1L908.9,988.1L912.8,988L916.6,987.5L920.9,987.4L925.2,986.7L929.6,986.8L933.9,986.6L938.2,986.2L942.5,985.6L946.3,984.9L950.2,984.9L954.1,984.5L957.9,984L961.8,983.6L965.7,982.9L969.9,983.1L974,982.9L978.2,982.4L982.3,982.1L986.5,981.4L990.7,981.5L994.8,981L999,980.5L1003.1,979.8L1006.9,979.2L1010.8,979.4L1014.6,978.9L1018.5,978.5L1022.3,978.2L1026.1,977.6L1030,977.8L1033.9,977.7L1037.7,977.1L1041.7,976.9L1045.6,976.2L1049.5,976.2L1053.5,976L1057.4,975.3L1061.3,974.9L1065.2,974.2L1069.2,974L1073.1,974L1077,973.3L1081,973.1L1084.7,972.5L1088.4,972.2L1092.2,972.3L1095.9,971.7L1099.6,971.2L1103.3,970.8L1107,970.1L1110.9,970.1L1114.7,969.6L1118.5,968.8L1122.3,968.3L1126.1,967.6L1130,967.5L1134,967.7L1138,967.4L1142,967.6L1146,967.6L1149.7,967.1L1153.5,966.6L1157.2,965.3L1160.9,964.5L1164.6,963.6L1168.3,962.7L1172.1,962.2L1176,960.9L1180.1,959.8L1184.1,958.9L1188.1,958.1L1192.3,957.6L1196.3,956.4L1200.4,956.1L1204.6,955.8L1208.7,955.7L1212.9,955.7L1217,954.9L1221.1,954.2L1225.1,953.4L1229.1,952.8L1233.2,952.2L1237.1,950.9L1241.1,950.3L1244.8,949.2L1248.6,948.4L1252.3,947.7L1255.9,946.3L1259.7,945.4L1263.4,944.6L1267.1,943.7L1271.1,943.1L1274.8,941.7L1278.6,940.5L1282.4,939.6L1286.2,938.4L1289.9,937.3L1293.5,935.6L1297,934L1300.7,932.8L1304.3,931.4L1308.1,930.4L1311.7,929L1315.8,928L1319.9,927.6L1324.1,926.8L1328.3,926.5L1332.3,925.5L1336.4,924.4L1340.1,923.5L1343.8,922.3L1347.6,921.4L1351.2,920L1354.8,918.4L1358.5,917.6L1362.2,916.5L1366,915.7L1369.8,914.8L1373.4,913.5L1377.2,912.8L1380.9,911.9L1384.7,911.1L1388.4,910.3L1392.2,908.7L1396.1,907.6L1400,906.7L1403.9,905.5L1407.8,903.7L1411.4,901.2L1415.3,899.5L1419.2,897.6L1423.2,895.9L1427,893.9L1431,891.9L1435.3,890.5L1439.3,888.6L1443.5,887L1446.8,884.9L1450.2,883L1453.7,881.6L1457.1,879.7L1460.6,878.1L1463.3,875.5L1466,872.9L1469.2,870.9L1472.1,868.7L1475,866.4L1478,864.2L1480.6,861.6L1483.7,859.5L1486.8,857.5L1489.6,855.1L1492.6,852.9L1495.2,850.3L1497.4,847.2L1500.1,844.5L1502.4,841.5L1504.9,838.5L1507.2,835.5L1509.7,832.4L1512.8,829.9L1515.7,827.3L1518.4,824.5L1521.3,821.8L1524.1,818.9L1527.4,816.5L1530.5,814L1533.4,811.2L1536.4,808.5L1539.1,805.5L1542.3,803L1545,800L1547.6,796.8L1550.3,793.8L1552.7,790.5L1555.7,787.7L1559.3,785.3L1562.8,782.7L1566.2,780.1L1569.6,777.3L1573.4,775.2L1576.7,772.6L1580.2,770.2L1583.4,767.5L1586.8,764.9L1590.5,762.8L1593.8,760L1597.3,757.4L1600.5,754.5L1604.3,752.2L1607.7,752.5L1611.2,752.3L1614.7,752.4L1616.4,748.9L1618,745.4L1620.3,742.2L1621.8,738.7L1624.5,736.9L1627.4,735.1L1630.2,733L1633.4,734.8L1636.4,736.8L1637.3,732.6L1638.4,728.6L1639.3,724.5L1641.5,721L1644,717.8L1645.9,714.2L1647.1,710.8L1648.2,707.4L1649.3,703.9" fill="none" stroke="#0000FF" stroke-width="7.2" stroke-dasharray="1.7 0.5 1.3 0.42 2 0.55 1.5 0.45 1.1 0.4" stroke-linejoin="bevel"/><path d="M1649.3,703.9L1651.7,686.5L1654.9,650L1656.6,620L1657.2,600.5" fill="none" stroke="#0000FF" stroke-width="7.0" stroke-linejoin="round"/>
<path d="M273.8,1058.9L299.4,1103.2L248.2,1103.2Z" fill="#0000FF"/><path d="M389.1,997.8L414.8,1042.1L363.5,1042.1Z" fill="#0000FF"/><path d="M504.4,985.4L530.1,1029.7L478.8,1029.7Z" fill="#0000FF"/><path d="M619.8,973.3L645.4,1017.6L594.1,1017.6Z" fill="#0000FF"/><path d="M735.1,966.5L760.7,1010.8L709.4,1010.8Z" fill="#0000FF"/><path d="M850.4,961.6L876,1005.9L824.7,1005.9Z" fill="#0000FF"/><path d="M965.7,953.9L991.4,998.2L940.1,998.2Z" fill="#0000FF"/><path d="M1081,943.7L1106.7,988L1055.4,988Z" fill="#0000FF"/><path d="M1196.3,927.1L1222,971.4L1170.7,971.4Z" fill="#0000FF"/><path d="M1311.7,899.5L1337.3,943.8L1286,943.8Z" fill="#0000FF"/><path d="M1427,864.4L1452.6,908.7L1401.3,908.7Z" fill="#0000FF"/><path d="M1542.3,773.5L1567.9,817.8L1516.6,817.8Z" fill="#0000FF"/><path d="M1657.2,571L1682.8,615.3L1631.5,615.3Z" fill="#0000FF"/>
</g>
<g id="s-green">
<path d="M273.8,1088.4L274,1084.6L274.3,1080.9L274.3,1077.1L274.5,1073.3L274.5,1069.5L274.6,1065.8L275.1,1062L275.9,1057.5L277.1,1053.1L280.5,1050.4L284.2,1049.5L287.6,1048L291.1,1046.7L294.5,1045.2L297.8,1043.3L301.3,1042.2L304.7,1040.9L308.3,1040.1L311.9,1039.2L315.3,1037.8L318.8,1036.9L322.1,1035.4L325.6,1034.4L329.1,1033.4L332.6,1032.2L336.9,1031.4L341.2,1030L345.6,1029.2L349.9,1028.1L354.3,1027.5L358.6,1026L362.9,1024.9L367.1,1023.3L370.8,1022.6L374.5,1021.7L378.2,1021L381.9,1020.2L385.4,1018.9L389.1,1018.1L392.8,1016.9L396.6,1016.2L400.4,1015.3L404.1,1014.2L407.8,1013.4L411.5,1012.2L415.4,1011.8L419.2,1011L423.1,1010L426.9,1008.5L430.6,1006.8L434.4,1005.5L438.2,1004.1L442.2,1003.4L446,1002L449.9,1001L453.7,999.5L457.4,998.4L461.2,997.4L464.8,996.2L468.6,995.2L472.2,993.6L475.9,992.6L479.6,991.4L483.9,990.7L488,989.7L492.1,988.4L496.2,986.9L500.2,985.3L504.4,984.4L508.2,983.2L512.2,982.5L516,981.1L519.9,980.2L523.7,979L527.6,978.1L531.5,977L535.3,975.6L539.1,974.5L542.9,973L546.9,972.5L550.9,971.5L555,971L558.9,969.7L562.8,968.5L566.7,967.4L570.6,966.2L574.6,965.6L578.3,964.3L582.1,963.6L585.8,962.3L589.7,961.5L593.5,960.7L597.2,959.7L601,958.7L604.6,957.1L608.4,956.2L612.1,955L616,954.4L619.8,953.7L623.6,952.6L627.4,951.6L631,950.1L634.8,949.3L638.5,948.1L642.4,947.3L646.1,946.2L649.8,944.9L653.7,944.1L657.4,943L661.3,942.5L665.1,941.2L668.9,940L672.7,938.4L676.4,937L680.4,936.2L684.2,935.1L688.2,934.4L692,932.9L695.9,931.9L699.7,930.3L703.7,929.2L707.6,927.8L711.5,926.3L715.4,925L719.2,923.5L723.3,922.7L727.3,921.4L731.3,920.4L735.1,918.6L739,917.2L742.8,915.6L746.8,914.6L750.8,913.5L754.8,912.3L758.7,911.1L762.6,909.5L766.6,908.6L770.5,907.1L774.5,906L778.3,904.2L782.2,903L786.2,902L790.2,901.5L794.2,901L798.1,900L802,899.1L805.8,897.7L809.8,897L813.7,896L817.7,895.5L821.7,894.6L825.6,893.7L829.7,893.2L833.9,892.5L838.1,892.3L842.1,891.3L846.3,890.7L850.3,889.5L854.3,888.9L858.3,888L862.3,887.4L866.2,886.4L870.1,885.1L874,884L877.9,882.7L881.9,882.1L885.7,881.2L889.6,880.7L893.4,879.8L897.3,879.3L901.2,878.9L905.1,878.2L909,877.8L912.7,876.5L916.6,875.8L920.2,874.8L924,874.3L927.7,874L931.4,873.2L935.2,872.7L938.8,871.5L942.5,870.8L946.4,870.1L950.2,869.4L954.1,869L957.9,867.9L961.8,867.5L965.7,866.7L969.5,866.3L973.3,865.7L977,864.7L980.7,863.8L984.3,862.4L988.1,861.7L991.8,860.9L995.6,860.4L999.4,859.8L1003.1,858.7L1007,857.9L1010.8,856.6L1014.7,856L1018.5,854.9L1022.3,853.8L1026.1,852.7L1029.9,851.5L1033.9,851L1037.7,850.1L1042,849.7L1046,848.4L1050.2,847.4L1054.3,846.2L1058.5,845.5L1062.3,844.9L1066,844.1L1069.8,843.5L1073.5,842.3L1077.3,841.8L1081,840.9L1084.8,840L1088.5,838.9L1092.1,837.4L1095.8,836.5L1099.5,835.2L1103.3,834.7L1107.1,833.9L1110.7,833L1114.3,832.1L1117.7,830.6L1121.4,829.8L1124.9,828.8L1129.2,827.9L1133.4,826.7L1137.6,825.5L1141.8,824.4L1146,823.4L1149.8,822.8L1153.4,821.6L1157.2,820.8L1160.8,819.4L1164.5,818.6L1168.2,817.9L1172,817.2L1176.1,817.2L1180.1,816.4L1184.2,816L1188.2,815.1L1192.2,814.9L1196.3,814.4L1200.2,814L1204.2,813.5L1208.1,812.8L1212.1,812.8L1216,812.3L1220,812.2L1223.9,811.3L1227.7,810.4L1231.5,809.5L1235.4,808.7L1239.3,808.6L1243.1,807.9L1247,807.5L1250.8,806.5L1254.7,805.8L1258.5,805.1L1262.3,804.4L1266.2,804.1L1270,803.1L1273.9,802.7L1277.7,801.9L1281.6,801.7L1285.5,801.5L1289.3,800.7L1293.1,800.2L1296.8,799L1300.5,798.5L1304.2,797.9L1308,797.5L1311.8,797.3L1315.8,796.1L1320,795.3L1324,794L1328.2,793.5L1332.3,792.2L1336.4,791.3L1340,790.1L1343.7,789.2L1347.5,788.7L1351.2,787.8L1355,787.5L1358.7,786.3L1362.3,785.3L1366,784.1L1369.6,782.9L1373.4,782.3L1377.1,781.2L1380.9,780.6L1384.6,779.4L1388.3,778.5L1392.3,776.1L1396.2,773.7L1400,771.1L1403.4,769.7L1406.9,768.8L1410.4,767.5L1414,767L1417.4,765.4L1420.6,763.7L1424,762L1426.9,759.7L1430.5,758.4L1434,756.9L1437.6,755.8L1441.3,754.6L1444.7,753L1448.4,752L1451.8,750.5L1455.7,749.1L1459.5,747.4L1463.1,745.6L1466.7,743.7L1470.3,741.5L1474.1,740L1477.8,738.3L1481.7,737.6L1485.4,736.2L1489.1,735L1492.7,733.5L1496.4,732.1L1500.2,731.1L1503.8,729.6L1507.4,728.1L1510.7,726.1L1514.2,724.5L1517.7,722.9L1521.2,721.3L1524.8,719.9L1528.1,718.2L1531.7,717L1535.1,715.4L1538.6,714.2L1542.3,713.4L1546,712.8L1549.7,712.6L1553.4,711.7L1557,711.1L1560.7,710.6L1564.4,709.8L1568.2,709.3L1571.8,708L1575.5,707.2L1579.2,706.2L1582.9,705.4L1586.8,705.1L1590.5,704.1L1594.1,702.4L1597.3,700L1600.7,697.9L1604.1,696L1607.6,694.1L1611.2,693.4L1614.6,692.1L1618.2,691.2L1621.6,690L1623.4,686.1L1625.3,682.3L1626.8,678.3L1628.5,674.4L1630.3,671.1L1632.7,668.2L1634.9,665.2L1637.4,662.4L1639.3,659L1640.6,655.4L1642.1,651.9" fill="none" stroke="#40A040" stroke-width="5.8" stroke-linejoin="round"/><path d="M273.8,1088.4L274,1084.6L274.3,1080.9L274.3,1077.1L274.5,1073.3L274.5,1069.5L274.6,1065.8L275.1,1062L275.9,1057.5L277.1,1053.1L280.5,1050.4L284.2,1049.5L287.6,1048L291.1,1046.7L294.5,1045.2L297.8,1043.3L301.3,1042.2L304.7,1040.9L308.3,1040.1L311.9,1039.2L315.3,1037.8L318.8,1036.9L322.1,1035.4L325.6,1034.4L329.1,1033.4L332.6,1032.2L336.9,1031.4L341.2,1030L345.6,1029.2L349.9,1028.1L354.3,1027.5L358.6,1026L362.9,1024.9L367.1,1023.3L370.8,1022.6L374.5,1021.7L378.2,1021L381.9,1020.2L385.4,1018.9L389.1,1018.1L392.8,1016.9L396.6,1016.2L400.4,1015.3L404.1,1014.2L407.8,1013.4L411.5,1012.2L415.4,1011.8L419.2,1011L423.1,1010L426.9,1008.5L430.6,1006.8L434.4,1005.5L438.2,1004.1L442.2,1003.4L446,1002L449.9,1001L453.7,999.5L457.4,998.4L461.2,997.4L464.8,996.2L468.6,995.2L472.2,993.6L475.9,992.6L479.6,991.4L483.9,990.7L488,989.7L492.1,988.4L496.2,986.9L500.2,985.3L504.4,984.4L508.2,983.2L512.2,982.5L516,981.1L519.9,980.2L523.7,979L527.6,978.1L531.5,977L535.3,975.6L539.1,974.5L542.9,973L546.9,972.5L550.9,971.5L555,971L558.9,969.7L562.8,968.5L566.7,967.4L570.6,966.2L574.6,965.6L578.3,964.3L582.1,963.6L585.8,962.3L589.7,961.5L593.5,960.7L597.2,959.7L601,958.7L604.6,957.1L608.4,956.2L612.1,955L616,954.4L619.8,953.7L623.6,952.6L627.4,951.6L631,950.1L634.8,949.3L638.5,948.1L642.4,947.3L646.1,946.2L649.8,944.9L653.7,944.1L657.4,943L661.3,942.5L665.1,941.2L668.9,940L672.7,938.4L676.4,937L680.4,936.2L684.2,935.1L688.2,934.4L692,932.9L695.9,931.9L699.7,930.3L703.7,929.2L707.6,927.8L711.5,926.3L715.4,925L719.2,923.5L723.3,922.7L727.3,921.4L731.3,920.4L735.1,918.6L739,917.2L742.8,915.6L746.8,914.6L750.8,913.5L754.8,912.3L758.7,911.1L762.6,909.5L766.6,908.6L770.5,907.1L774.5,906L778.3,904.2L782.2,903L786.2,902L790.2,901.5L794.2,901L798.1,900L802,899.1L805.8,897.7L809.8,897L813.7,896L817.7,895.5L821.7,894.6L825.6,893.7L829.7,893.2L833.9,892.5L838.1,892.3L842.1,891.3L846.3,890.7L850.3,889.5L854.3,888.9L858.3,888L862.3,887.4L866.2,886.4L870.1,885.1L874,884L877.9,882.7L881.9,882.1L885.7,881.2L889.6,880.7L893.4,879.8L897.3,879.3L901.2,878.9L905.1,878.2L909,877.8L912.7,876.5L916.6,875.8L920.2,874.8L924,874.3L927.7,874L931.4,873.2L935.2,872.7L938.8,871.5L942.5,870.8L946.4,870.1L950.2,869.4L954.1,869L957.9,867.9L961.8,867.5L965.7,866.7L969.5,866.3L973.3,865.7L977,864.7L980.7,863.8L984.3,862.4L988.1,861.7L991.8,860.9L995.6,860.4L999.4,859.8L1003.1,858.7L1007,857.9L1010.8,856.6L1014.7,856L1018.5,854.9L1022.3,853.8L1026.1,852.7L1029.9,851.5L1033.9,851L1037.7,850.1L1042,849.7L1046,848.4L1050.2,847.4L1054.3,846.2L1058.5,845.5L1062.3,844.9L1066,844.1L1069.8,843.5L1073.5,842.3L1077.3,841.8L1081,840.9L1084.8,840L1088.5,838.9L1092.1,837.4L1095.8,836.5L1099.5,835.2L1103.3,834.7L1107.1,833.9L1110.7,833L1114.3,832.1L1117.7,830.6L1121.4,829.8L1124.9,828.8L1129.2,827.9L1133.4,826.7L1137.6,825.5L1141.8,824.4L1146,823.4L1149.8,822.8L1153.4,821.6L1157.2,820.8L1160.8,819.4L1164.5,818.6L1168.2,817.9L1172,817.2L1176.1,817.2L1180.1,816.4L1184.2,816L1188.2,815.1L1192.2,814.9L1196.3,814.4L1200.2,814L1204.2,813.5L1208.1,812.8L1212.1,812.8L1216,812.3L1220,812.2L1223.9,811.3L1227.7,810.4L1231.5,809.5L1235.4,808.7L1239.3,808.6L1243.1,807.9L1247,807.5L1250.8,806.5L1254.7,805.8L1258.5,805.1L1262.3,804.4L1266.2,804.1L1270,803.1L1273.9,802.7L1277.7,801.9L1281.6,801.7L1285.5,801.5L1289.3,800.7L1293.1,800.2L1296.8,799L1300.5,798.5L1304.2,797.9L1308,797.5L1311.8,797.3L1315.8,796.1L1320,795.3L1324,794L1328.2,793.5L1332.3,792.2L1336.4,791.3L1340,790.1L1343.7,789.2L1347.5,788.7L1351.2,787.8L1355,787.5L1358.7,786.3L1362.3,785.3L1366,784.1L1369.6,782.9L1373.4,782.3L1377.1,781.2L1380.9,780.6L1384.6,779.4L1388.3,778.5L1392.3,776.1L1396.2,773.7L1400,771.1L1403.4,769.7L1406.9,768.8L1410.4,767.5L1414,767L1417.4,765.4L1420.6,763.7L1424,762L1426.9,759.7L1430.5,758.4L1434,756.9L1437.6,755.8L1441.3,754.6L1444.7,753L1448.4,752L1451.8,750.5L1455.7,749.1L1459.5,747.4L1463.1,745.6L1466.7,743.7L1470.3,741.5L1474.1,740L1477.8,738.3L1481.7,737.6L1485.4,736.2L1489.1,735L1492.7,733.5L1496.4,732.1L1500.2,731.1L1503.8,729.6L1507.4,728.1L1510.7,726.1L1514.2,724.5L1517.7,722.9L1521.2,721.3L1524.8,719.9L1528.1,718.2L1531.7,717L1535.1,715.4L1538.6,714.2L1542.3,713.4L1546,712.8L1549.7,712.6L1553.4,711.7L1557,711.1L1560.7,710.6L1564.4,709.8L1568.2,709.3L1571.8,708L1575.5,707.2L1579.2,706.2L1582.9,705.4L1586.8,705.1L1590.5,704.1L1594.1,702.4L1597.3,700L1600.7,697.9L1604.1,696L1607.6,694.1L1611.2,693.4L1614.6,692.1L1618.2,691.2L1621.6,690L1623.4,686.1L1625.3,682.3L1626.8,678.3L1628.5,674.4L1630.3,671.1L1632.7,668.2L1634.9,665.2L1637.4,662.4L1639.3,659L1640.6,655.4L1642.1,651.9" fill="none" stroke="#008000" stroke-width="7.2" stroke-dasharray="1.7 0.5 1.3 0.42 2 0.55 1.5 0.45 1.1 0.4" stroke-linejoin="bevel"/><path d="M1642.1,651.9L1644.2,634.6L1646.5,617.3L1648.6,600L1652.7,553.1L1656,501.2L1657.1,473.7" fill="none" stroke="#008000" stroke-width="7.0" stroke-linejoin="round"/>
<path d="M273.8,1117.9L299.4,1073.6L248.2,1073.6Z" fill="#008000"/><path d="M389.1,1047.4L414.8,1003.1L363.5,1003.1Z" fill="#008000"/><path d="M504.4,1014L530.1,969.7L478.8,969.7Z" fill="#008000"/><path d="M619.8,982.9L645.4,938.6L594.1,938.6Z" fill="#008000"/><path d="M735.1,948.1L760.7,903.8L709.4,903.8Z" fill="#008000"/><path d="M850.4,919.6L876,875.3L824.7,875.3Z" fill="#008000"/><path d="M965.7,896.4L991.4,852.1L940.1,852.1Z" fill="#008000"/><path d="M1081,870.3L1106.7,826L1055.4,826Z" fill="#008000"/><path d="M1196.3,844L1222,799.7L1170.7,799.7Z" fill="#008000"/><path d="M1311.7,826.5L1337.3,782.2L1286,782.2Z" fill="#008000"/><path d="M1427,789.3L1452.6,745L1401.3,745Z" fill="#008000"/><path d="M1542.3,742.9L1567.9,698.6L1516.6,698.6Z" fill="#008000"/><path d="M1657.1,503.2L1682.7,458.9L1631.4,458.9Z" fill="#008000"/>
</g>
<g id="s-magenta">
<path d="M273.8,1088.4L273.9,1084.4L274,1080.4L274.3,1076.4L274.2,1072.4L274.1,1068.4L274.6,1064.4L275.4,1059.8L276,1055.2L276.6,1050.7L278.4,1048.4L280.4,1046L284,1044.7L287.5,1043.2L290.9,1041.5L294.4,1039.9L297.9,1038.4L301.3,1036.6L304.9,1035.1L308.5,1033.8L311.9,1031.8L315.2,1029.8L318.7,1028.2L322.1,1026.4L325.5,1024.8L329.2,1023.6L332.6,1022.1L336,1020.4L339.5,1019.2L343.1,1018.1L346.5,1016.7L350,1015.4L353.5,1014L356.8,1012.2L360.1,1010.5L363.7,1009.4L367.2,1008.2L370.8,1006.6L374.6,1005.3L378.2,1003.8L381.7,1002.1L385.5,1000.9L389.3,999.6L392.9,997.7L396.5,995.9L400.3,994.2L403.9,992.5L407.8,991.2L411.7,990.1L415.4,988.2L419.1,986.6L423,985.1L426.8,983.3L430.7,981.8L434.5,980.2L438.2,978L442,976.3L446,975.1L449.9,973.5L453.8,972.1L457.6,970.5L461.1,968.5L464.8,967L468.6,965.6L472.2,963.7L475.9,962.1L479.6,960.4L483.7,958.9L487.9,958L492.2,957.2L496.2,955.6L500.3,954.2L504.4,952.8L508.2,951.4L512.1,950.5L516,949.5L519.7,947.9L523.6,946.9L527.6,946L531.5,944.9L535.4,944.1L539.3,943L543,941.2L546.9,939.9L550.9,938.9L554.8,937.6L558.8,936.5L562.8,935.4L566.6,933.9L570.7,933L574.7,932.2L578.4,931L582.1,929.8L585.9,928.8L589.5,927.4L593.3,926.5L597.2,926L601,925L604.7,923.8L608.5,923L612.3,922.1L616,921.1L619.9,920.4L623.6,919.2L627.2,917.6L631,916.5L634.8,915.7L638.5,914.6L642.4,913.8L646.2,912.9L649.9,911.5L653.7,910.5L657.5,909.8L661.2,908.6L665,907.4L668.9,906.4L672.6,905.1L676.5,904.1L680.5,903.7L684.3,902.9L688.1,901.7L692,900.9L695.8,899.8L699.7,898.9L703.7,898.5L707.6,897.7L711.4,896.6L715.4,895.9L719.3,895.4L723.3,894.8L727.3,894.5L731.2,894L735.1,892.8L739,892L743,891.4L746.9,890.5L750.8,889.8L754.7,889.1L758.6,888.1L762.6,887.5L766.6,887.3L770.6,886.6L774.5,885.8L778.4,885L782.3,883.9L786.2,883.1L790.2,882.9L794.1,882.2L798,881.3L802,880.9L805.9,880.3L809.9,879.8L813.9,879.6L817.8,878.8L821.6,877.6L825.6,877L829.7,876L833.8,874.9L838,874.2L842.1,873.1L846.2,871.8L850.5,871.2L854.4,870.2L858.3,868.9L862.3,867.8L866.1,866.3L869.9,864.9L874,864.3L878,863.3L881.9,862.1L885.8,861.4L889.6,860.5L893.5,859.4L897.4,858.9L901.2,858.1L905,856.7L908.8,855.7L912.7,854.9L916.5,854L920.3,853.6L924.1,853L927.7,851.8L931.4,850.8L935.1,850.2L938.8,849.2L942.5,848.3L946.4,847.3L950.2,845.8L954,844.4L957.9,843.8L961.9,843L965.8,841.8L969.5,840.8L973.2,839.4L976.8,837.9L980.7,837L984.4,836L988.1,834.5L991.8,833.3L995.6,832.3L999.3,831L1003.1,830.2L1007.1,829.2L1010.9,827.4L1014.6,825.7L1018.5,824.3L1022.2,822.7L1026.1,821.3L1030.1,820.1L1033.8,818.3L1037.6,816.9L1041.2,816L1044.7,814.8L1048.2,813.4L1051.7,812.2L1055,810.6L1058.3,808.9L1062.2,807.7L1066,806.7L1069.7,805.2L1073.5,803.9L1077.3,802.7L1081,801.2L1084.8,799.9L1088.6,798.6L1092.2,796.7L1095.8,794.8L1099.5,793.2L1103.1,791.5L1106.9,790.2L1110.7,788.7L1114.2,786.6L1117.8,784.6L1121.5,783L1125.1,781.1L1128.6,778.9L1132.1,776.8L1135.3,774.1L1138.7,771.8L1142.5,769.9L1146,767.8L1149.8,765.8L1153.6,763.9L1157.1,761.4L1160.8,759.4L1164.7,757.6L1168.3,755.2L1171.9,752.9L1175.3,750.8L1178.7,748.5L1182.4,746.7L1186.1,744.9L1189.5,742.6L1192.9,740.3L1196.4,738.2L1199.7,735.5L1203.2,733.2L1206.7,730.8L1209.9,728L1213.4,725.6L1217,723.5L1220.5,721.1L1224.1,718.8L1227.5,716.9L1230.7,714.5L1234.2,712.6L1237.8,710.9L1241.1,708.9L1244.4,706.2L1247.6,703.5L1250.7,700.6L1254.2,698.2L1257.7,695.8L1260.8,692.9L1263.9,690L1267,687.2L1270.1,684.6L1273.5,682.5L1276.9,680.3L1280,677.7L1283.3,675.3L1286.7,673.2L1289.9,670.8L1293.3,668.6L1296.4,666.4L1299.2,663.6L1302.1,661.1L1305.4,659.1L1308.5,656.9L1311.7,654.6L1314.9,652.3L1317.8,649.7L1320.7,647L1324,644.8L1327.1,642.4L1329.9,639.7L1332.9,637L1336.3,635.2L1339.6,633.2L1343.2,631.7L1346.9,630.4L1350.3,628.6L1353.7,626.7L1357.3,624.8L1360.6,622.6L1364.1,620.6L1367.7,618.7L1370.9,616.3L1373.6,613.7L1376.6,611.6L1379.6,609.4L1382.5,607.1L1385.6,605.1L1388.6,602.8L1391.7,599.7L1395.1,597L1398.7,594.4L1401.9,591.4L1405.1,589.2L1408.1,586.8L1411.1,584.3L1414.5,582.4L1417.9,580.5L1420.9,578.2L1424,575.8L1427.1,573.5L1430.1,570.4L1433.5,567.7L1436.9,565.1L1440,562L1443.2,559.2L1446.7,556.6L1450.5,554.5L1454.4,552.7L1458.1,550.4L1461.6,547.7L1465.4,545.6L1469.1,543.5L1472.6,542L1476.2,540.9L1479.7,539.5L1483,537.8L1486.6,536.6L1490.2,535.6L1493.6,534.1L1496.9,532.5L1500.4,533.3L1503.9,533.9L1507.1,531.9L1510.8,530.5L1514.3,529L1517.7,527.1L1521.2,525.4L1524.8,523.4L1528.2,521.2L1531.9,519.4L1535.5,517.4L1538.7,514.8L1542.1,512.6L1545.6,510.2L1549,507.6L1552.6,505.4L1556.1,503L1559.2,500.2L1562.7,497.8L1566.3,495.8L1569.7,493.4L1573.2,491.3L1576.5,489L1578.9,485.6L1582,482.7L1585.1,479.9L1587.8,476.7L1590.6,473.7L1593.4,471.3L1596.1,468.7L1599.1,466.5L1602.2,465L1605.1,463.1" fill="none" stroke="#FF40FF" stroke-width="5.8" stroke-linejoin="round"/><path d="M273.8,1088.4L273.9,1084.4L274,1080.4L274.3,1076.4L274.2,1072.4L274.1,1068.4L274.6,1064.4L275.4,1059.8L276,1055.2L276.6,1050.7L278.4,1048.4L280.4,1046L284,1044.7L287.5,1043.2L290.9,1041.5L294.4,1039.9L297.9,1038.4L301.3,1036.6L304.9,1035.1L308.5,1033.8L311.9,1031.8L315.2,1029.8L318.7,1028.2L322.1,1026.4L325.5,1024.8L329.2,1023.6L332.6,1022.1L336,1020.4L339.5,1019.2L343.1,1018.1L346.5,1016.7L350,1015.4L353.5,1014L356.8,1012.2L360.1,1010.5L363.7,1009.4L367.2,1008.2L370.8,1006.6L374.6,1005.3L378.2,1003.8L381.7,1002.1L385.5,1000.9L389.3,999.6L392.9,997.7L396.5,995.9L400.3,994.2L403.9,992.5L407.8,991.2L411.7,990.1L415.4,988.2L419.1,986.6L423,985.1L426.8,983.3L430.7,981.8L434.5,980.2L438.2,978L442,976.3L446,975.1L449.9,973.5L453.8,972.1L457.6,970.5L461.1,968.5L464.8,967L468.6,965.6L472.2,963.7L475.9,962.1L479.6,960.4L483.7,958.9L487.9,958L492.2,957.2L496.2,955.6L500.3,954.2L504.4,952.8L508.2,951.4L512.1,950.5L516,949.5L519.7,947.9L523.6,946.9L527.6,946L531.5,944.9L535.4,944.1L539.3,943L543,941.2L546.9,939.9L550.9,938.9L554.8,937.6L558.8,936.5L562.8,935.4L566.6,933.9L570.7,933L574.7,932.2L578.4,931L582.1,929.8L585.9,928.8L589.5,927.4L593.3,926.5L597.2,926L601,925L604.7,923.8L608.5,923L612.3,922.1L616,921.1L619.9,920.4L623.6,919.2L627.2,917.6L631,916.5L634.8,915.7L638.5,914.6L642.4,913.8L646.2,912.9L649.9,911.5L653.7,910.5L657.5,909.8L661.2,908.6L665,907.4L668.9,906.4L672.6,905.1L676.5,904.1L680.5,903.7L684.3,902.9L688.1,901.7L692,900.9L695.8,899.8L699.7,898.9L703.7,898.5L707.6,897.7L711.4,896.6L715.4,895.9L719.3,895.4L723.3,894.8L727.3,894.5L731.2,894L735.1,892.8L739,892L743,891.4L746.9,890.5L750.8,889.8L754.7,889.1L758.6,888.1L762.6,887.5L766.6,887.3L770.6,886.6L774.5,885.8L778.4,885L782.3,883.9L786.2,883.1L790.2,882.9L794.1,882.2L798,881.3L802,880.9L805.9,880.3L809.9,879.8L813.9,879.6L817.8,878.8L821.6,877.6L825.6,877L829.7,876L833.8,874.9L838,874.2L842.1,873.1L846.2,871.8L850.5,871.2L854.4,870.2L858.3,868.9L862.3,867.8L866.1,866.3L869.9,864.9L874,864.3L878,863.3L881.9,862.1L885.8,861.4L889.6,860.5L893.5,859.4L897.4,858.9L901.2,858.1L905,856.7L908.8,855.7L912.7,854.9L916.5,854L920.3,853.6L924.1,853L927.7,851.8L931.4,850.8L935.1,850.2L938.8,849.2L942.5,848.3L946.4,847.3L950.2,845.8L954,844.4L957.9,843.8L961.9,843L965.8,841.8L969.5,840.8L973.2,839.4L976.8,837.9L980.7,837L984.4,836L988.1,834.5L991.8,833.3L995.6,832.3L999.3,831L1003.1,830.2L1007.1,829.2L1010.9,827.4L1014.6,825.7L1018.5,824.3L1022.2,822.7L1026.1,821.3L1030.1,820.1L1033.8,818.3L1037.6,816.9L1041.2,816L1044.7,814.8L1048.2,813.4L1051.7,812.2L1055,810.6L1058.3,808.9L1062.2,807.7L1066,806.7L1069.7,805.2L1073.5,803.9L1077.3,802.7L1081,801.2L1084.8,799.9L1088.6,798.6L1092.2,796.7L1095.8,794.8L1099.5,793.2L1103.1,791.5L1106.9,790.2L1110.7,788.7L1114.2,786.6L1117.8,784.6L1121.5,783L1125.1,781.1L1128.6,778.9L1132.1,776.8L1135.3,774.1L1138.7,771.8L1142.5,769.9L1146,767.8L1149.8,765.8L1153.6,763.9L1157.1,761.4L1160.8,759.4L1164.7,757.6L1168.3,755.2L1171.9,752.9L1175.3,750.8L1178.7,748.5L1182.4,746.7L1186.1,744.9L1189.5,742.6L1192.9,740.3L1196.4,738.2L1199.7,735.5L1203.2,733.2L1206.7,730.8L1209.9,728L1213.4,725.6L1217,723.5L1220.5,721.1L1224.1,718.8L1227.5,716.9L1230.7,714.5L1234.2,712.6L1237.8,710.9L1241.1,708.9L1244.4,706.2L1247.6,703.5L1250.7,700.6L1254.2,698.2L1257.7,695.8L1260.8,692.9L1263.9,690L1267,687.2L1270.1,684.6L1273.5,682.5L1276.9,680.3L1280,677.7L1283.3,675.3L1286.7,673.2L1289.9,670.8L1293.3,668.6L1296.4,666.4L1299.2,663.6L1302.1,661.1L1305.4,659.1L1308.5,656.9L1311.7,654.6L1314.9,652.3L1317.8,649.7L1320.7,647L1324,644.8L1327.1,642.4L1329.9,639.7L1332.9,637L1336.3,635.2L1339.6,633.2L1343.2,631.7L1346.9,630.4L1350.3,628.6L1353.7,626.7L1357.3,624.8L1360.6,622.6L1364.1,620.6L1367.7,618.7L1370.9,616.3L1373.6,613.7L1376.6,611.6L1379.6,609.4L1382.5,607.1L1385.6,605.1L1388.6,602.8L1391.7,599.7L1395.1,597L1398.7,594.4L1401.9,591.4L1405.1,589.2L1408.1,586.8L1411.1,584.3L1414.5,582.4L1417.9,580.5L1420.9,578.2L1424,575.8L1427.1,573.5L1430.1,570.4L1433.5,567.7L1436.9,565.1L1440,562L1443.2,559.2L1446.7,556.6L1450.5,554.5L1454.4,552.7L1458.1,550.4L1461.6,547.7L1465.4,545.6L1469.1,543.5L1472.6,542L1476.2,540.9L1479.7,539.5L1483,537.8L1486.6,536.6L1490.2,535.6L1493.6,534.1L1496.9,532.5L1500.4,533.3L1503.9,533.9L1507.1,531.9L1510.8,530.5L1514.3,529L1517.7,527.1L1521.2,525.4L1524.8,523.4L1528.2,521.2L1531.9,519.4L1535.5,517.4L1538.7,514.8L1542.1,512.6L1545.6,510.2L1549,507.6L1552.6,505.4L1556.1,503L1559.2,500.2L1562.7,497.8L1566.3,495.8L1569.7,493.4L1573.2,491.3L1576.5,489L1578.9,485.6L1582,482.7L1585.1,479.9L1587.8,476.7L1590.6,473.7L1593.4,471.3L1596.1,468.7L1599.1,466.5L1602.2,465L1605.1,463.1" fill="none" stroke="#FF00FF" stroke-width="7.2" stroke-dasharray="1.7 0.5 1.3 0.42 2 0.55 1.5 0.45 1.1 0.4" stroke-linejoin="bevel"/><path d="M1605.1,463.1L1611.2,449.2L1616.4,431.9L1621.6,414.6L1626.8,397.3L1630.2,388.7L1634.6,380.7L1637.9,363.2L1640.1,345.6L1647.8,339L1650,319.3L1652.2,286.4L1654.4,231.6L1656.4,173.5L1657,150.7" fill="none" stroke="#FF00FF" stroke-width="7.0" stroke-linejoin="round"/>
<path d="M273.8,1064.5L294.5,1076.5L294.5,1100.4L273.8,1112.3L253.1,1100.4L253.1,1076.5Z" fill="#FF00FF"/><path d="M389.1,975.3L409.8,987.2L409.8,1011.2L389.1,1023.1L368.4,1011.2L368.4,987.2Z" fill="#FF00FF"/><path d="M504.4,928.9L525.1,940.8L525.1,964.8L504.4,976.7L483.7,964.8L483.7,940.8Z" fill="#FF00FF"/><path d="M619.8,896.2L640.5,908.1L640.5,932L619.8,944L599.1,932L599.1,908.1Z" fill="#FF00FF"/><path d="M735.1,868.9L755.8,880.8L755.8,904.8L735.1,916.7L714.4,904.8L714.4,880.8Z" fill="#FF00FF"/><path d="M850.4,847.1L871.1,859L871.1,883L850.4,894.9L829.7,883L829.7,859Z" fill="#FF00FF"/><path d="M965.7,817.7L986.4,829.6L986.4,853.6L965.7,865.5L945,853.6L945,829.6Z" fill="#FF00FF"/><path d="M1081,777.4L1101.7,789.3L1101.7,813.2L1081,825.2L1060.3,813.2L1060.3,789.3Z" fill="#FF00FF"/><path d="M1196.3,714.2L1217,726.1L1217,750.1L1196.3,762L1175.6,750.1L1175.6,726.1Z" fill="#FF00FF"/><path d="M1311.7,630.8L1332.4,642.8L1332.4,666.7L1311.7,678.6L1291,666.7L1291,642.8Z" fill="#FF00FF"/><path d="M1427,549.5L1447.7,561.4L1447.7,585.4L1427,597.3L1406.3,585.4L1406.3,561.4Z" fill="#FF00FF"/><path d="M1542.3,489L1563,500.9L1563,524.9L1542.3,536.8L1521.6,524.9L1521.6,500.9Z" fill="#FF00FF"/><path d="M1656.9,126.8L1677.6,138.7L1677.6,162.6L1656.9,174.6L1636.2,162.6L1636.2,138.7Z" fill="#FF00FF"/>
</g>
</g>
<path d="M563.7,118.3H1594.2V307.3H563.7V118.3" fill="#fff" stroke="#000" stroke-width="6.6" stroke-linejoin="round" stroke-linecap="butt"/>
<g class="t">
<path d="M596.1,166.4H740.7" stroke="#000000" stroke-width="6.7" fill="none"/><path d="M668.1,139.2L695.3,166.4L668.1,193.6L640.9,166.4Z" fill="#000000"/>
<text transform="translate(758.5,189.1) scale(1,1.042)" text-anchor="start">343K</text>
<circle cx="1000.2" cy="166.4" r="21.3" fill="#FF0000"/><circle cx="993.8" cy="159.7" r="10.8" fill="#FF6464"/><circle cx="993.8" cy="159.7" r="6.9" fill="#FFB4B4"/><circle cx="993.8" cy="159.7" r="3.4" fill="#FFF6F6"/><path d="M928.2,166.4H1072.8" stroke="#FF0000" stroke-width="6.7" fill="none"/>
<text transform="translate(1090.6,189.1) scale(1,1.042)" text-anchor="start">363K</text>
<path d="M1260.3,166.4H1404.9" stroke="#0000FF" stroke-width="6.7" fill="none"/><path d="M1332.3,136.9L1358,181.2L1306.6,181.2Z" fill="#0000FF"/>
<text transform="translate(1422.7,189.1) scale(1,1.042)" text-anchor="start">383K</text>
<path d="M596.1,245.8H740.7" stroke="#008000" stroke-width="6.7" fill="none"/><path d="M668.1,275.3L693.8,231L642.5,231Z" fill="#008000"/>
<text transform="translate(758.5,267.7) scale(1,1.042)" text-anchor="start">403K</text>
<path d="M928.2,245.8H1072.8" stroke="#FF00FF" stroke-width="6.7" fill="none"/><path d="M1000.2,221.9L1020.9,233.9L1020.9,257.8L1000.2,269.7L979.5,257.8L979.5,233.9Z" fill="#FF00FF"/>
<text transform="translate(1090.6,267.7) scale(1,1.042)" text-anchor="start">423K</text>
</g>
</svg></body></html>
